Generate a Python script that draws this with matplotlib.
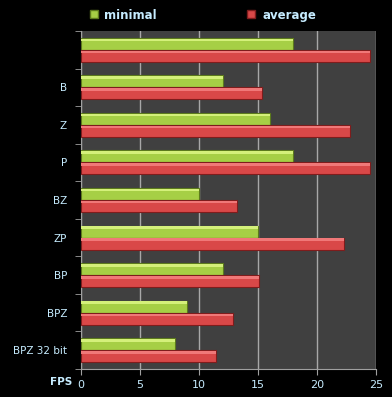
import numpy as np
import matplotlib
matplotlib.use("Agg")
import matplotlib.pyplot as plt
from matplotlib.lines import Line2D

categories = ["", "B", "Z", "P", "BZ", "ZP", "BP", "BPZ", "BPZ 32 bit"]
minimal = [18, 12, 16, 18, 10, 15, 12, 9, 8]
average = [24.5, 15.3, 22.8, 24.5, 13.2, 22.3, 15.1, 12.9, 11.4]
xticks = [0, 5, 10, 15, 20, 25]

txt = "#c6ecff"
green = "#a6cf45"
green_edge = "#5c7a1c"
red = "#d94848"
red_edge = "#7f1c1c"

fig = plt.figure(figsize=(3.92, 3.97), dpi=100, facecolor="black")
ax = fig.add_axes([0.2066, 0.0705, 0.7526, 0.8515])
ax.set_facecolor("#404040")

y = np.arange(len(categories))
h = 0.32
ax.barh(y - h / 2, minimal, height=h, color=green, edgecolor=green_edge, linewidth=0.8, zorder=3)
ax.barh(y + h / 2, average, height=h, color=red, edgecolor=red_edge, linewidth=0.8, zorder=3)
# light highlight along the top of each bar
ax.barh(y - h * 0.82, minimal, height=h * 0.22, color="#d4f07a", linewidth=0, zorder=4)
ax.barh(y + h * 0.18, average, height=h * 0.22, color="#f07878", linewidth=0, zorder=4)

ax.set_xlim(0, 25)
ax.set_ylim(len(categories) - 0.5, -0.5)
ax.set_xticks(xticks)
ax.set_xticklabels([str(t) for t in xticks], color=txt, fontsize=8)
ax.set_yticks(y)
ax.set_yticklabels(categories, color=txt, fontsize=7.5)
ax.tick_params(axis="y", length=0, pad=10)
ax.set_yticks(np.arange(len(categories) + 1) - 0.5, minor=True)
ax.tick_params(axis="y", which="minor", length=4, color="#a0a0a0", direction="out")
ax.tick_params(axis="x", length=4, color="#a0a0a0", direction="out", pad=4)
ax.grid(axis="x", color="#a8a8a8", linewidth=1, zorder=1)
ax.set_axisbelow(True)
for s in ["top", "right"]:
    ax.spines[s].set_visible(False)
for s in ["left", "bottom"]:
    ax.spines[s].set_color("#a0a0a0")

fig.text(0.185, 0.037, "FPS", color=txt, fontsize=7.5, fontweight="bold", ha="right", va="center")

handles = [Line2D([], [], marker="s", linestyle="", markersize=6, markerfacecolor=green, markeredgecolor=green_edge),
           Line2D([], [], marker="s", linestyle="", markersize=6, markerfacecolor=red, markeredgecolor=red_edge)]
leg = fig.legend(handles, ["minimal", "average"], loc="center", bbox_to_anchor=(0.515, 0.962), ncol=2,
                 frameon=False, columnspacing=7.5, handletextpad=0.4, handlelength=1,
                 prop={"weight": "bold", "size": 8.5})
for t in leg.get_texts():
    t.set_color(txt)

fig.savefig("out.png", dpi=100, facecolor="black")
